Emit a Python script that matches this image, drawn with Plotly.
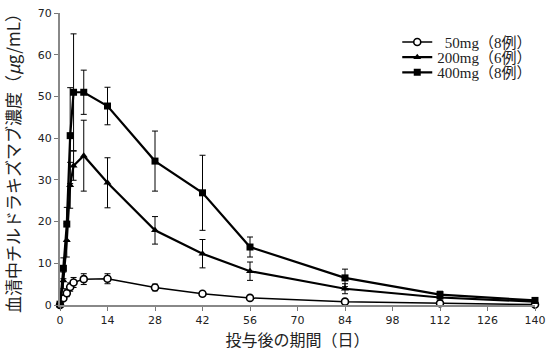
import plotly.graph_objects as go

days = [0, 1, 2, 3, 4, 7, 14, 28, 42, 56, 84, 112, 140]

mg50 = [0.0, 1.6, 2.8, 4.3, 5.4, 6.2, 6.3, 4.2, 2.7, 1.7, 0.8, 0.4, 0.1]
mg50_sd = [0.1, 0.5, 0.8, 1.0, 1.2, 1.3, 1.2, 0.8, 0.5, 0.3, 0.2, 0.1, 0.1]

mg200 = [0.3, 5.9, 15.5, 28.7, 33.4, 35.8, 29.3, 17.9, 12.3, 8.1, 3.9, 1.8, 0.8]
mg200_sd = [0.2, 2.0, 4.0, 5.5, 3.5, 8.5, 6.0, 3.3, 3.4, 2.2, 1.2, 0.6, 0.4]

mg400 = [0.2, 8.8, 19.4, 40.6, 51.0, 51.0, 47.7, 34.5, 26.9, 13.9, 6.5, 2.5, 1.1]
mg400_sd = [0.2, 2.5, 4.0, 11.5, 14.0, 5.3, 4.5, 7.2, 9.0, 2.4, 2.1, 0.8, 0.4]

names = ["\u00a0\u00a050mg（8例）", "200mg（6例）", "400mg（8例）"]
x_ticks = list(range(0, 141, 14))
y_ticks = list(range(0, 71, 10))

series = [
    (mg50, mg50_sd, "circle", "white", 1.5, 7, 1.6),
    (mg200, mg200_sd, "triangle-up", "black", 2.2, 7, 0),
    (mg400, mg400_sd, "square", "black", 2.2, 7, 0),
]
legend_ids = ["legend", "legend2", "legend3"]
legend_y = [0.900, 0.848, 0.796]

fig = go.Figure()
for (vals, sd, sym, fill, lw, ms, mlw), nm, lg in zip(series, names, legend_ids):
    fig.add_trace(go.Scatter(
        x=days, y=vals, name=nm, mode="lines+markers", legend=lg,
        line=dict(color="black", width=lw),
        marker=dict(symbol=sym, size=ms, color=fill,
                    line=dict(color="black", width=mlw)),
        error_y=dict(type="data", array=sd, visible=True, color="black",
                     thickness=1, width=3),
        cliponaxis=False,
    ))

legend_style = dict(x=0.71, xanchor="left", yanchor="middle",
                    bgcolor="rgba(0,0,0,0)", itemwidth=30,
                    font=dict(family="Liberation Serif, Noto Sans CJK JP",
                              size=15, color="#222"))

fig.update_layout(
    width=553, height=352,
    margin=dict(l=60, r=12, t=7, b=47),
    paper_bgcolor="white", plot_bgcolor="white",
    showlegend=True,
    legend=dict(y=legend_y[0], **legend_style),
    legend2=dict(y=legend_y[1], **legend_style),
    legend3=dict(y=legend_y[2], **legend_style),
    font=dict(family="DejaVu Sans", color="#222"),
)
fig.update_xaxes(
    range=[0, 140], tickvals=x_ticks, ticks="outside", ticklen=4,
    tickcolor="#777", showline=True, linecolor="#888", linewidth=2,
    showgrid=False, zeroline=False,
    tickfont=dict(family="DejaVu Sans", size=11, color="#222"),
    title=dict(text="投与後の期間（日）",
               font=dict(family="Noto Sans CJK JP", size=16, color="#222"),
               standoff=0),
)
fig.update_yaxes(
    range=[0, 70], tickvals=y_ticks, ticks="outside", ticklen=4,
    tickcolor="#777", showline=True, linecolor="#888", linewidth=2,
    showgrid=False, zeroline=False,
    tickfont=dict(family="DejaVu Sans", size=11, color="#222"),
    title=dict(text="血清中チルドラキズマブ濃度（<i>μ</i>g/mL）",
               font=dict(family="Noto Sans CJK JP", size=17, color="#222"),
               standoff=16),
)

fig.write_html("out.html")
